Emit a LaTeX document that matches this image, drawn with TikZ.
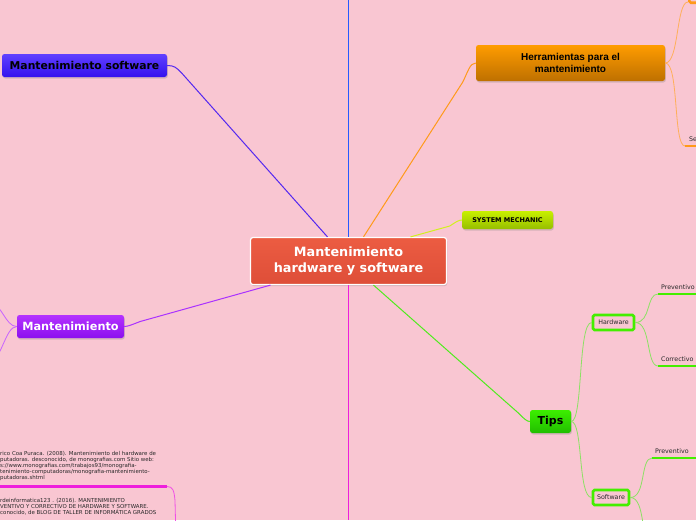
\documentclass[tikz,border=0pt]{standalone}
\usepackage{fontspec}
\setmainfont{DejaVu Sans}
\newfontfamily\arialf{Liberation Sans}
\usetikzlibrary{shadows,calc}
\definecolor{bg}{RGB}{249,198,210}
\definecolor{txt}{RGB}{40,40,40}
\definecolor{cTop}{RGB}{236,92,66}
\definecolor{cBot}{RGB}{222,78,56}
\definecolor{msTop}{RGB}{96,64,255}
\definecolor{msBot}{RGB}{52,18,238}
\definecolor{hTop}{RGB}{255,156,0}
\definecolor{hBot}{RGB}{190,112,0}
\definecolor{smTop}{RGB}{200,240,0}
\definecolor{smBot}{RGB}{150,190,0}
\definecolor{mTop}{RGB}{180,50,255}
\definecolor{mBot}{RGB}{140,16,238}
\definecolor{tTop}{RGB}{60,238,0}
\definecolor{tBot}{RGB}{34,190,0}
\definecolor{lnBlue}{RGB}{40,90,255}
\definecolor{lnMS}{RGB}{84,40,240}
\definecolor{lnOr}{RGB}{255,154,26}
\definecolor{lnYe}{RGB}{210,240,30}
\definecolor{lnGr}{RGB}{80,235,30}
\definecolor{lnPu}{RGB}{170,50,255}
\definecolor{lnMa}{RGB}{238,30,220}
\definecolor{brGr}{RGB}{68,238,0}
\definecolor{thGr}{RGB}{140,225,100}
\definecolor{thOr}{RGB}{255,175,90}
\definecolor{thPu}{RGB}{200,100,255}
\definecolor{thMa}{RGB}{240,80,230}
\tikzset{
  topic/.style={rounded corners=2.5pt, inner sep=0pt, align=center,
    drop shadow={opacity=0.3, shadow xshift=0.8pt, shadow yshift=-1.5pt}},
  subtopic/.style={rounded corners=1.5pt, inner sep=0pt, fill=bg, draw=brGr,
    line width=2.6pt, text=txt, font=\fontsize{6.3}{7}\selectfont},
  leaf/.style={anchor=south west, inner xsep=3pt, inner ysep=4pt, text=txt,
    font=\fontsize{6.3}{7}\selectfont, text width=54pt, align=left},
  mainline/.style={line width=1pt},
  thinline/.style={line width=0.8pt},
  refl/.style={anchor=north west, inner sep=0pt, text=txt, align=left,
    font=\fontsize{5.45}{6.1}\selectfont}
}
\begin{document}
\begin{tikzpicture}[x=1pt,y=-1pt]
\fill[bg] (0,0) rectangle (696,520);
\useasboundingbox (0,0) rectangle (696,520);
\clip (0,0) rectangle (696,520);

% main topics
\node[topic, top color=cTop, bottom color=cBot, draw=white, line width=1.2pt,
  minimum width=196pt, minimum height=47pt, text=white,
  font=\bfseries\fontsize{12.8}{15.5}\selectfont] (c) at (348.5,261) {Mantenimiento\\hardware y software};
\node[topic, top color=msTop, bottom color=msBot, minimum width=165pt, minimum height=23pt,
  text=black, font=\bfseries\fontsize{10.8}{13}\selectfont] (ms) at (84.5,65.5) {Mantenimiento software};
\node[topic, top color=hTop, bottom color=hBot, minimum width=189pt, minimum height=36pt,
  text=black, font=\arialf\bfseries\fontsize{10}{12.5}\selectfont] (herr) at (570.5,63) {Herramientas para el\\mantenimiento};
\node[topic, top color=smTop, bottom color=smBot, minimum width=91pt, minimum height=18pt,
  text=black, font=\bfseries\fontsize{6.5}{8}\selectfont] (sm) at (507.5,220) {SYSTEM MECHANIC};
\node[topic, top color=mTop, bottom color=mBot, minimum width=107pt, minimum height=23pt,
  text=white, font=\bfseries\fontsize{11.3}{13}\selectfont] (mant) at (70.5,326.5) {Mantenimiento};
\node[topic, top color=tTop, bottom color=tBot, minimum width=41pt, minimum height=23pt,
  text=black, font=\bfseries\fontsize{11}{13}\selectfont] (tips) at (550.5,421.5) {Tips};

% sub topics
\node[subtopic, minimum width=41pt, minimum height=15pt] (hw) at (613.5,322.5) {Hardware};
\node[subtopic, minimum width=36pt, minimum height=15pt] (sw) at (611,497.5) {Software};

% leaves
\node[leaf] (prevhw) at (658,294) {Preventivo};
\node[leaf] (corrhw) at (658,366) {Correctivo};
\node[leaf] (prevsw) at (652,458) {Preventivo};
\node[leaf, inner xsep=4pt] (se) at (685,146) {Se};
\draw[brGr, line width=2.6pt] (prevhw.south west) -- (prevhw.south east);
\draw[brGr, line width=2.6pt] (corrhw.south west) -- (corrhw.south east);
\draw[brGr, line width=2.6pt] (prevsw.south west) -- (prevsw.south east);
\draw[lnOr, line width=2.6pt] (se.south west) -- (se.south east);
\node[draw=lnOr, line width=2.6pt, fill=bg, rounded corners=1.5pt,
  minimum width=30pt, minimum height=24pt, anchor=south west] (ht) at (688,4) {};

% off-screen ends
\coordinate (swdown) at (652,545);
\coordinate (mup) at (-12,302);
\coordinate (mdown) at (-12,362);
\coordinate (topend) at (348.5,0);
\coordinate (botend) at (348.5,520);

% reference texts
\node[refl] (ref1) at (0,451) {rico Coa Puraca. (2008). Mantenimiento del hardware de\\
putadoras. desconocido, de monografias.com Sitio web:\\
s://www.monografias.com/trabajos93/monografia-\\
tenimiento-computadoras/monografia-mantenimiento-\\
putadoras.shtml};
\coordinate (ref1l) at (-5,486.5);
\coordinate (ref1r) at (167,486.5);
\draw[lnMa, line width=2.6pt] (ref1l) -- (ref1r);
\node[refl] (ref2) at (0,498) {rdeinformatica123 . (2016). MANTENIMIENTO\\
VENTIVO Y CORRECTIVO DE HARDWARE Y SOFTWARE.\\
conocido, de BLOG DE TALLER DE INFORMÁTICA GRADOS};
\coordinate (ref1down) at (176,540);
\draw[thMa, thinline] (ref1r) .. controls ($(ref1r)+(6,0)$) and ($(ref1r)+(7,4)$) .. ($(ref1r)+(8,14)$) -- (ref1down);

% main connectors
\draw[lnBlue, mainline] (c.north) -- (topend);
\draw[lnMa, mainline] (c.south) -- (botend);
\draw[lnMS, mainline] (ms.east) .. controls ($(ms.east)+(7,0)$) and ($(ms.east)+(9,2)$) .. ($(ms.east)+(14,7)$) -- ($(c.north)+(-21,0)$);
\draw[lnOr, mainline] ($(c.north)+(15,0)$) -- ($(herr.west)+(-13,19)$) .. controls ($(herr.west)+(-8,9)$) and ($(herr.west)+(-6,0)$) .. (herr.west);
\draw[lnYe, mainline] ($(c.north)+(62,0)$) -- ($(sm.west)+(-12,6)$) .. controls ($(sm.west)+(-6,2)$) and ($(sm.west)+(-3,0)$) .. (sm.west);
\draw[lnGr, mainline] ($(c.south)+(25,0)$) -- ($(tips.west)+(-12,-9)$) .. controls ($(tips.west)+(-6,-3)$) and ($(tips.west)+(-3,0)$) .. (tips.west);
\draw[lnPu, mainline] ($(c.south)+(-78,0)$) -- ($(mant.east)+(16,-5)$) .. controls ($(mant.east)+(8,-2)$) and ($(mant.east)+(4,0)$) .. (mant.east);

% branch connectors
\draw[thGr, thinline] (tips.east) .. controls ($(tips.east)+(12,0)$) and ($(hw.west)+(-14,0)$) .. (hw.west);
\draw[thGr, thinline] (tips.east) .. controls ($(tips.east)+(12,0)$) and ($(sw.west)+(-14,0)$) .. (sw.west);
\draw[thGr, thinline] (hw.east) .. controls ($(hw.east)+(16,0)$) and ($(prevhw.south west)+(-12,0)$) .. (prevhw.south west);
\draw[thGr, thinline] (hw.east) .. controls ($(hw.east)+(16,0)$) and ($(corrhw.south west)+(-12,0)$) .. (corrhw.south west);
\draw[thGr, thinline] (sw.east) .. controls ($(sw.east)+(16,0)$) and ($(prevsw.south west)+(-12,0)$) .. (prevsw.south west);
\draw[thGr, thinline] (sw.east) .. controls ($(sw.east)+(16,0)$) and ($(swdown)+(-12,0)$) .. (swdown);
\draw[thOr, thinline] (herr.east) .. controls ($(herr.east)+(14,0)$) and ($(ht.south west)+(-12,-2)$) .. ($(ht.south west)+(0,-2)$);
\draw[thOr, thinline] (herr.east) .. controls ($(herr.east)+(14,0)$) and ($(se.south west)+(-12,0)$) .. (se.south west);
\draw[thPu, thinline] (mant.west) .. controls ($(mant.west)+(-12,0)$) and ($(mup)+(14,0)$) .. (mup);
\draw[thPu, thinline] (mant.west) .. controls ($(mant.west)+(-12,0)$) and ($(mdown)+(14,0)$) .. (mdown);
\end{tikzpicture}
\end{document}
